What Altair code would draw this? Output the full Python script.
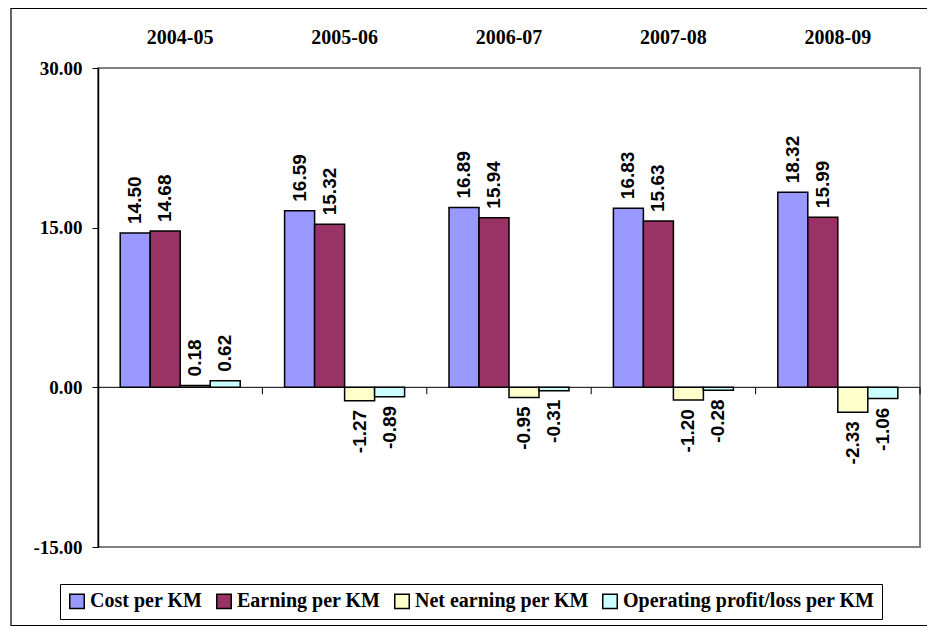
import altair as alt
import pandas as pd

years = ["2004-05", "2005-06", "2006-07", "2007-08", "2008-09"]
series = ["Cost per KM", "Earning per KM", "Net earning per KM", "Operating profit/loss per KM"]
colors = ["#9999FF", "#993366", "#FFFFCC", "#CCFFFF"]

cost = [14.50, 16.59, 16.89, 16.83, 18.32]
earning = [14.68, 15.32, 15.94, 15.63, 15.99]
net = [0.18, -1.27, -0.95, -1.20, -2.33]
operating = [0.62, -0.89, -0.31, -0.28, -1.06]

rows = []
for s, vals in zip(series, [cost, earning, net, operating]):
    for y, v in zip(years, vals):
        rows.append({"Year": y, "Series": s, "Value": v})
df = pd.DataFrame(rows)

W, H = 822, 479
SERIF = "Liberation Serif"
SANS = "Liberation Sans"
LABEL_EXPR = "replace(format(datum.Value, '.2f'), '\u2212', '-')"

x_enc = alt.X("Year:N", scale=alt.Scale(domain=years, paddingInner=0, paddingOuter=0),
              axis=alt.Axis(orient="top", domain=False, ticks=False, labelAngle=0,
                            labelFont=SERIF, labelFontSize=20, labelFontWeight="bold",
                            labelColor="black", labelBaseline="alphabetic",
                            labelPadding=25, title=None))
xoff = alt.XOffset("Series:N", scale=alt.Scale(domain=series, paddingInner=0, paddingOuter=0.74))
y_enc = alt.Y("Value:Q", scale=alt.Scale(domain=[-15, 30], nice=False, zero=False),
              axis=alt.Axis(values=[-15, 0, 15, 30], grid=False,
                            labelExpr="replace(format(datum.value, '.2f'), '\u2212', '-')",
                            domainColor="black", domainWidth=1.5, tickColor="black",
                            tickSize=6, tickWidth=1, labelFont=SERIF, labelFontSize=19,
                            labelFontWeight="bold", labelColor="black", labelPadding=10,
                            title=None))

border = alt.Chart(alt.Data(values=[{"a": 1}])).mark_rect(
    fill="transparent", stroke="black", strokeWidth=1.2
).encode(x=alt.value(-87), x2=alt.value(900), y=alt.value(-59.5), y2=alt.value(557.5))

zero = alt.Chart(alt.Data(values=[{"a": 1}])).mark_rule(color="black", strokeWidth=1).encode(
    y=alt.datum(0)
)

ticks = alt.Chart(pd.DataFrame({"Year": years})).mark_rule(color="black", strokeWidth=1).encode(
    x=alt.X("Year:N", bandPosition=1),
    y=alt.datum(0),
    y2=alt.datum(-0.65),
)

bars = alt.Chart(df).mark_bar(stroke="black", strokeWidth=1.5).encode(
    x=x_enc,
    xOffset=xoff,
    y=y_enc,
    y2=alt.datum(0),
    color=alt.Color("Series:N", scale=alt.Scale(domain=series, range=colors),
                    legend=alt.Legend(orient="none", legendX=-38, legendY=516,
                                      direction="horizontal", columns=4, title=None,
                                      symbolType="square", symbolSize=210,
                                      symbolStrokeColor="black", symbolStrokeWidth=1.5,
                                      labelFont=SERIF, labelFontSize=20, labelFontWeight="bold",
                                      labelColor="black", labelLimit=500,
                                      strokeColor="black", fillColor="white",
                                      padding=7, columnPadding=10, labelOffset=3)),
)

pos = alt.Chart(df).transform_filter("datum.Value >= 0").transform_calculate(
    label=LABEL_EXPR
).mark_text(
    angle=270, align="left", baseline="middle", dx=9, font=SANS, fontSize=19,
    fontWeight="bold", color="black"
).encode(x="Year:N", xOffset="Series:N", y="Value:Q", text="label:N")

neg = alt.Chart(df).transform_filter("datum.Value < 0").transform_calculate(
    label=LABEL_EXPR
).mark_text(
    angle=270, align="right", baseline="middle", dx=-9, font=SANS, fontSize=19,
    fontWeight="bold", color="black"
).encode(x="Year:N", xOffset="Series:N", y="Value:Q", text="label:N")

chart = alt.layer(border, zero, bars, ticks, pos, neg).properties(
    width=W, height=H,
    padding={"left": 90, "top": 60, "right": 7, "bottom": 79},
    autosize=alt.AutoSizeParams(type="none"),
    background="white",
).configure_view(stroke="#808080", strokeWidth=2)

chart.save("out.html", embed_options={"renderer": "svg", "actions": False})
